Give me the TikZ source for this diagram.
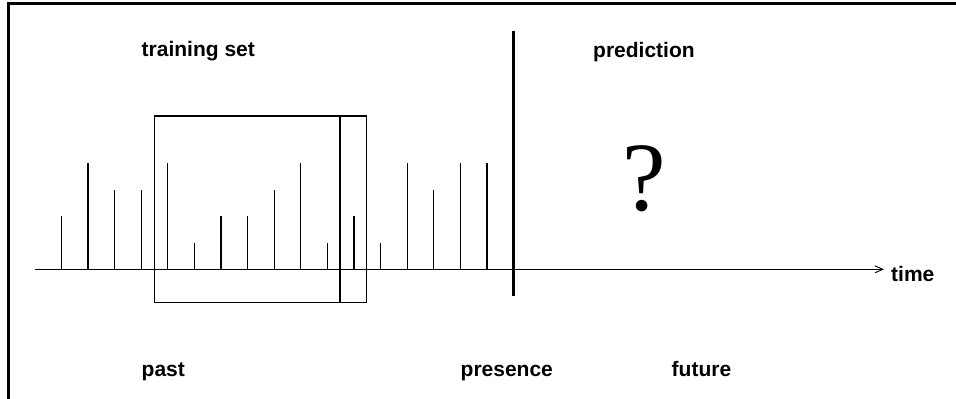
\documentclass[tikz,border=0pt]{standalone}
\usepackage{fontspec}
\setmainfont{Liberation Sans}
\newfontfamily\qfont{Liberation Serif}
\usetikzlibrary{arrows.meta}
\begin{document}
\begin{tikzpicture}[x=1pt,y=-1pt,
  lbl/.style={inner sep=0pt,anchor=base west,font=\fontsize{21}{21}\selectfont\bfseries},
  spike/.style={line width=1.2pt},
  boxline/.style={line width=1.5pt},
  framel/.style={line width=2.2pt}]
\useasboundingbox (0,0) rectangle (956,399);
% frame
\coordinate (fTL) at (8.5,3.5);
\coordinate (fTR) at (956,3.5);
\coordinate (fBL) at (8.5,399);
\draw[framel] (fTR) -- (fTL) -- (fBL);
% axis
\coordinate (axL) at (35,269.3);
\coordinate (axR) at (884,269.3);
\draw[line width=1.2pt,-{Straight Barb[length=8pt,width=7pt,line width=0.9pt]}] (axL) -- (axR);
% spikes
\foreach \h [count=\i from 0] in {2,4,3,3,4,1,2,2,3,4,1,2,1,4,3,4,4}{
  \coordinate (s\i b) at ({61.3+26.6*\i},269.3);
  \coordinate (s\i t) at ({61.3+26.6*\i},{269.3-26.6*\h});
  \draw[spike] (s\i b) -- (s\i t);
}
% training window boxes
\coordinate (bA) at (154.3,116);
\coordinate (bB) at (340,302.3);
\coordinate (bC) at (366.3,116);
\draw[boxline] (bA) rectangle (bB);
\draw[boxline] (bB) rectangle (bC);
% presence line
\coordinate (pT) at (513,30.5);
\coordinate (pB) at (513,295.5);
\draw[line width=3pt] (pT) -- (pB);
% labels
\node[lbl] (ts) at (141.5,56.7) {training set};
\node[lbl] (pr) at (593,57.3) {prediction};
\node[lbl] (tm) at (891,281.5) {time};
\node[lbl] (pa) at (141.5,376) {past};
\node[lbl] (pe) at (460.5,376) {presence};
\node[lbl] (fu) at (671.5,376) {future};
\node[inner sep=0pt,font=\qfont\fontsize{98}{98}\selectfont] (q) at (644,179) {?};
\end{tikzpicture}
\end{document}
